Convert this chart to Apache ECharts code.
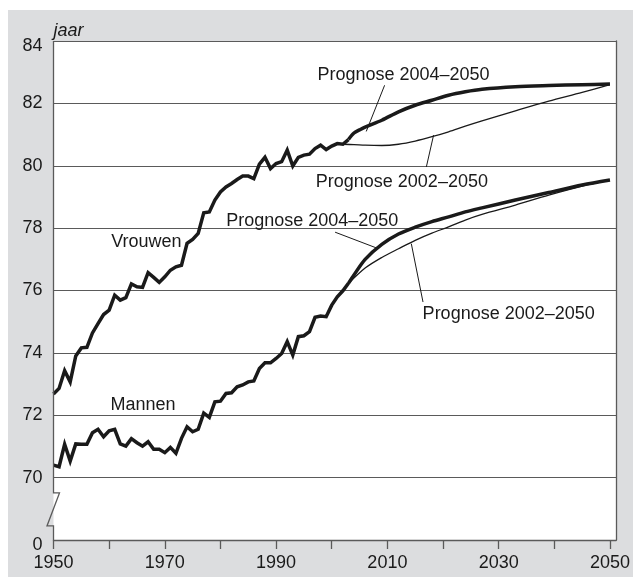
<!DOCTYPE html>
<html><head><meta charset="utf-8">
<script src="https://cdn.jsdelivr.net/npm/echarts@6/dist/echarts.min.js"></script>
<style>
html,body{margin:0;padding:0;background:#fff;width:633px;height:577px;overflow:hidden;}
#chart{position:absolute;left:8px;top:10px;width:625px;height:567px;}
</style></head><body><div id="chart"></div>
<script>
// ---- data ----
const histYears = [1950,1951,1952,1953,1954,1955,1956,1957,1958,1959,1960,1961,1962,1963,1964,1965,1966,1967,1968,1969,1970,1971,1972,1973,1974,1975,1976,1977,1978,1979,1980,1981,1982,1983,1984,1985,1986,1987,1988,1989,1990,1991,1992,1993,1994,1995,1996,1997,1998,1999,2000,2001,2002,2003];
const womenHist = [72.68,72.86,73.43,73.07,73.90,74.16,74.18,74.64,74.94,75.23,75.37,75.85,75.69,75.77,76.21,76.12,76.10,76.57,76.42,76.26,76.44,76.65,76.76,76.81,77.51,77.64,77.83,78.49,78.52,78.90,79.16,79.32,79.43,79.56,79.67,79.67,79.59,80.05,80.27,79.91,80.07,80.13,80.50,79.99,80.27,80.34,80.37,80.55,80.66,80.52,80.63,80.71,80.69,80.84];
const menHist = [70.40,70.35,71.07,70.53,71.08,71.07,71.07,71.44,71.55,71.31,71.50,71.55,71.08,71.01,71.25,71.12,71.01,71.15,70.91,70.91,70.80,70.97,70.78,71.26,71.63,71.47,71.55,72.07,71.93,72.43,72.45,72.70,72.72,72.91,72.97,73.07,73.10,73.50,73.68,73.68,73.82,73.98,74.36,73.93,74.52,74.55,74.68,75.14,75.18,75.16,75.53,75.80,75.99,76.23];

const womenProg2004Years = [2003,2004,2005,2006,2009,2012,2015,2018,2021,2024,2027,2033,2039,2045,2050];
const womenProg2004 = [80.84,81.05,81.15,81.24,81.46,81.73,81.94,82.10,82.26,82.37,82.45,82.53,82.57,82.60,82.62];
const womenProg2002Years = [2002,2004,2006,2009,2012,2015,2018,2021,2024,2027,2033,2039,2045,2050];
const womenProg2002 = [80.69,80.68,80.66,80.65,80.69,80.79,80.93,81.09,81.27,81.44,81.76,82.07,82.35,82.60];

const menProg2004Years = [2003,2004,2006,2009,2012,2015,2018,2021,2024,2027,2033,2039,2045,2050];
const menProg2004 = [76.23,76.50,77.00,77.48,77.81,78.03,78.21,78.36,78.52,78.65,78.90,79.14,79.38,79.54];
const menProg2002Years = [2002,2003,2006,2009,2012,2015,2018,2021,2024,2027,2033,2039,2045,2050];
const menProg2002 = [75.99,76.22,76.72,77.06,77.34,77.61,77.84,78.04,78.26,78.44,78.74,79.06,79.35,79.54];

const xTickValues = [1950,1960,1970,1980,1990,2000,2010,2020,2030,2040,2050];
const xLabelValues = [1950,1970,1990,2010,2030,2050];
const yUnit = 'jaar';

// annotation texts, anchored in data coordinates
const notes = [
  {text:'Vrouwen', at:[1966.7,77.55]},
  {text:'Mannen', at:[1966.1,72.33]},
  {text:'Prognose 2004–2050', at:[2012.9,82.90], line:[[2009.5,82.58],[2006.2,81.10]]},
  {text:'Prognose 2002–2050', at:[2012.6,79.47], line:[[2017.0,79.96],[2018.3,80.98]]},
  {text:'Prognose 2004–2050', at:[1996.5,78.22], line:[[2000.6,77.87],[2008.1,77.36]]},
  {text:'Prognose 2002–2050', at:[2031.8,75.24], line:[[2014.3,77.50],[2016.4,75.63]]}
];

// ---- chart ----
const FONT = '"Liberation Sans", Arial, Helvetica, sans-serif';
const INK = '#1a1a1a';
const AX = '#5a5a5a';
const FS = 18;
const zip = (xs, ys) => xs.map((x, i) => [x, ys[i]]);

const chart = echarts.init(document.getElementById('chart'), null, {renderer:'canvas'});

function lineSeries(data, width, smooth, z) {
  return {
    type:'line', data, showSymbol:false, symbol:'none', smooth,
    lineStyle:{color:INK, width, join:'miter', miterLimit:6, cap:'butt'},
    z, silent:true, animation:false
  };
}

chart.setOption({
  backgroundColor:'#dcdddf',
  animation:false,
  textStyle:{fontFamily:FONT},
  grid:{left:45.5, top:31, right:11.3, bottom:37, show:true, backgroundColor:'#ffffff', borderWidth:0},
  xAxis:{
    type:'value', min:1950, max:2051.1, interval:10,
    axisLine:{show:true, lineStyle:{color:AX, width:1.3}},
    axisTick:{show:true, length:9, customValues:xTickValues, lineStyle:{color:AX, width:1.3}},
    axisLabel:{customValues:xLabelValues, fontSize:FS, color:INK, margin:14, fontFamily:FONT,
      formatter:(v)=>String(v)},
    splitLine:{show:false}
  },
  yAxis:[{
    type:'value', min:68, max:84, interval:2,
    axisLine:{show:false},
    axisTick:{show:false},
    axisLabel:{fontSize:FS, color:INK, margin:11, fontFamily:FONT,
      formatter:(v)=> v===68 ? '{d|0}' : (v===84 ? '{d|84}' : String(v)),
      rich:{d:{fontSize:FS, color:INK, fontFamily:FONT, padding:[10,0,0,0]}}},
    splitLine:{show:true, lineStyle:{color:AX, width:1.1}}
  },{
    type:'value', min:68, max:84, interval:2, position:'right',
    axisLine:{show:true, lineStyle:{color:AX, width:1.3}},
    axisTick:{show:false}, axisLabel:{show:false}, splitLine:{show:false}
  }],
  series:[
    lineSeries(zip(womenProg2002Years, womenProg2002), 1.3, 0.3, 3),
    lineSeries(zip(menProg2002Years, menProg2002), 1.3, 0.3, 3),
    lineSeries(zip(histYears, womenHist), 3.5, false, 4),
    lineSeries(zip(histYears, menHist), 3.5, false, 4),
    lineSeries(zip(womenProg2004Years, womenProg2004), 3.5, 0.3, 5),
    lineSeries(zip(menProg2004Years, menProg2004), 3.5, 0.3, 5)
  ]
});

const px = (p) => chart.convertToPixel({gridIndex:0}, p);
const graphics = [];

// y axis line with a break between 0 and 70
const pTop = px([1950,84]), pB1 = px([1950,69.51]), pB2 = px([1950,68.45]), pBot = px([1950,68]);
graphics.push({type:'polyline', silent:true, z:10, shape:{points:[
  [pTop[0], pTop[1]], [pB1[0], pB1[1]], [pB1[0]+6, pB1[1]], [pB2[0]-6.5, pB2[1]], [pB2[0], pB2[1]], [pBot[0], pBot[1]]
]}, style:{stroke:AX, lineWidth:1.3, fill:null}});

// unit label
graphics.push({type:'text', silent:true, z:10, x:pTop[0], y:pTop[1]-10,
  style:{text:yUnit, font:'italic ' + FS + 'px ' + FONT, fill:INK, align:'left', verticalAlign:'middle'}});

notes.forEach(n => {
  const p = px(n.at);
  graphics.push({type:'text', silent:true, z:10, x:p[0], y:p[1],
    style:{text:n.text, font:FS + 'px ' + FONT, fill:INK, align:'center', verticalAlign:'middle'}});
  if (n.line) {
    const a = px(n.line[0]), c = px(n.line[1]);
    graphics.push({type:'line', silent:true, z:10, shape:{x1:a[0], y1:a[1], x2:c[0], y2:c[1]},
      style:{stroke:INK, lineWidth:1}});
  }
});

chart.setOption({graphic:graphics});
</script>
</body></html>
